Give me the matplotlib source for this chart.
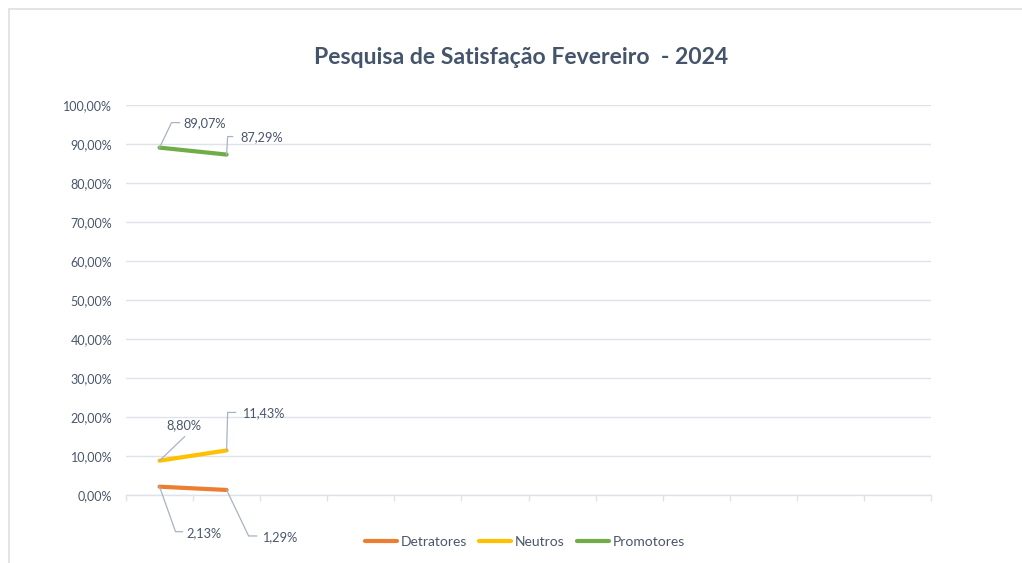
import matplotlib
matplotlib.use("Agg")
import matplotlib.pyplot as plt
import numpy as np
from matplotlib.ticker import FuncFormatter, MultipleLocator, FixedLocator
from matplotlib.patches import Rectangle
from matplotlib.lines import Line2D

# ---- data ----
months = ["Janeiro", "Fevereiro", "Março", "Abril", "Maio", "Junho",
          "Julho", "Agosto", "Setembro", "Outubro", "Novembro", "Dezembro"]
detratores = [2.13, 1.29]
neutros = [8.80, 11.43]
promotores = [89.07, 87.29]
series_names = ["Detratores", "Neutros", "Promotores"]
title = "Pesquisa de Satisfação Fevereiro  - 2024"

colors = {"Detratores": "#ED7D31", "Neutros": "#FFC000", "Promotores": "#70AD47"}
txt_color = "#4a566b"
grid_color = "#dfe3e9"
leader_color = "#a9b3c2"

plt.rcParams["font.family"] = ["Lato", "DejaVu Sans"]

W, H = 1022, 563
fig = plt.figure(figsize=(W / 100, H / 100), dpi=100)
fig.patch.set_facecolor("white")

# chart border (top + left visible)
fig.add_artist(Rectangle((9 / W, -0.1), 1.2, 1 - 9 / H + 0.1, transform=fig.transFigure,
                         fill=False, edgecolor="#dcdfe5", lw=1.2))

ax = fig.add_axes([126 / W, 68 / H, (931 - 126) / W, 390 / H])
ax.set_xlim(-0.5, len(months) - 0.5)
ax.set_ylim(0, 1)

ax.yaxis.set_major_locator(MultipleLocator(0.1))
ax.yaxis.set_major_formatter(FuncFormatter(lambda v, p: f"{v*100:.2f}%".replace(".", ",")))
ax.grid(axis="y", color=grid_color, lw=1.0)
ax.set_axisbelow(True)
for s in ["left", "right", "top"]:
    ax.spines[s].set_visible(False)
ax.spines["bottom"].set_color(grid_color)
ax.spines["bottom"].set_linewidth(1.0)
ax.tick_params(axis="y", length=0, labelsize=9, labelcolor=txt_color, pad=10)
ax.xaxis.set_major_locator(FixedLocator(np.arange(len(months) + 1) - 0.5))
ax.set_xticklabels([])
ax.tick_params(axis="x", length=4, color=grid_color, width=1.0)

data = {"Detratores": detratores, "Neutros": neutros, "Promotores": promotores}
handles = []
for name in series_names:
    vals = np.array(data[name]) / 100
    x = np.arange(len(vals))
    ln, = ax.plot(x, vals, color=colors[name], lw=3.0, solid_capstyle="round", label=name, zorder=3)
    handles.append(ln)

# label layout: leader polyline offsets (px, y up) and text offset/alignment
label_layout = {
    ("Promotores", 0): ([(0, 0), (12, 25), (20, 25)], (24, 24), "left"),
    ("Promotores", 1): ([(0, 0), (1, 18), (6, 18)], (14, 17), "left"),
    ("Neutros", 0): ([(0, 0), (25, 24)], (24, 36), "center"),
    ("Neutros", 1): ([(0, 0), (1, 38), (9, 38)], (15, 37), "left"),
    ("Detratores", 0): ([(0, 0), (16, -45), (23, -45)], (27, -46), "left"),
    ("Detratores", 1): ([(0, 0), (22, -46), (30, -46)], (35, -47), "left"),
}

fig.canvas.draw()
for name in series_names:
    vals = np.array(data[name]) / 100
    for i, v in enumerate(vals):
        pts, toff, ha = label_layout[(name, i)]
        px, py = ax.transData.transform((i, v))
        xs = [px + dx for dx, dy in pts]
        ys = [py + dy for dx, dy in pts]
        fig.add_artist(Line2D(xs, ys, transform=None, color=leader_color, lw=0.9, zorder=2))
        lbl = f"{data[name][i]:.2f}%".replace(".", ",")
        fig.text(px + toff[0], py + toff[1], lbl, transform=None, ha=ha, va="center",
                 fontsize=9.2, color=txt_color)

fig.text(521 / W, 1 - 58 / H, title, ha="center", va="center", fontsize=16.6,
         fontweight="bold", color="#44546A")

fig.legend(handles=handles, labels=series_names, loc="center",
           bbox_to_anchor=(525 / W, 1 - 542 / H), ncol=3, frameon=False,
           fontsize=10, labelcolor=txt_color, handlelength=2.3, handletextpad=0.25,
           columnspacing=0.9)

fig.savefig("out.png", dpi=100, facecolor="white")
